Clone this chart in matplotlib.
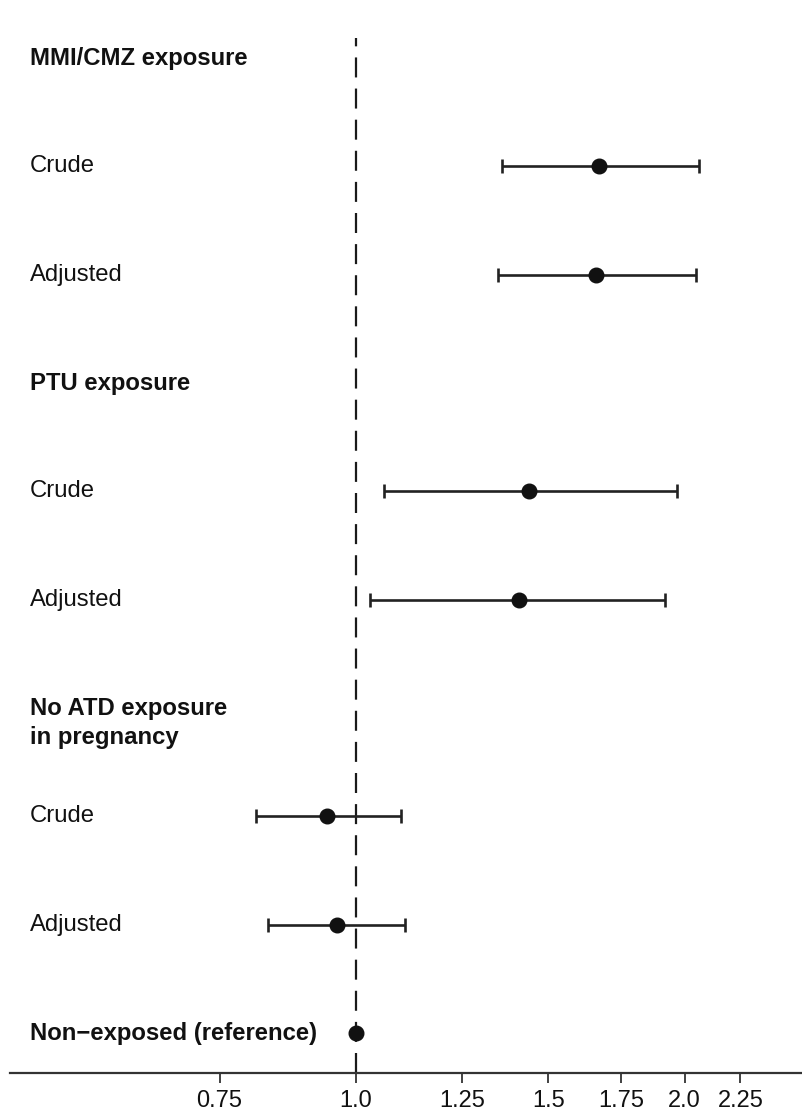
import matplotlib
matplotlib.use("Agg")
import matplotlib.pyplot as plt
import matplotlib.transforms as mtransforms
from matplotlib.ticker import FixedLocator, NullLocator, FixedFormatter

plt.rcParams['font.family'] = ['Liberation Sans', 'DejaVu Sans']

# rows from top to bottom
labels = ['MMI/CMZ exposure', 'Crude', 'Adjusted',
          'PTU exposure', 'Crude', 'Adjusted',
          'No ATD exposure\nin pregnancy', 'Crude', 'Adjusted',
          'Non\u2212exposed (reference)']
is_header = [True, False, False, True, False, False, True, False, False, True]

# estimates (odds ratios) with 95% CI, None for header rows
est = [None, 1.67, 1.66, None, 1.44, 1.41, None, 0.94, 0.96, 1.00]
lower = [None, 1.36, 1.35, None, 1.06, 1.03, None, 0.81, 0.83, None]
upper = [None, 2.06, 2.05, None, 1.97, 1.92, None, 1.10, 1.11, None]

xticks = [0.75, 1.0, 1.25, 1.5, 1.75, 2.0, 2.25]
xticklabels = ['0.75', '1.0', '1.25', '1.5', '1.75', '2.0', '2.25']

W, H = 803, 1114
fig = plt.figure(figsize=(W / 100, H / 100), dpi=100)
ax = fig.add_axes([10 / W, (H - 1073) / H, 793 / W, (1073 - 38) / H])

ax.set_xscale('log')
ax.set_xlim(0.482, 2.568)
ax.set_ylim(9.369, -0.185)

# reference line at OR = 1
ax.axvline(1.0, color='#1a1a1a', lw=1.6, linestyle=(0, (9, 5)), zorder=1)

for i in range(len(labels)):
    if est[i] is None:
        continue
    if lower[i] is not None:
        ax.errorbar([est[i]], [i],
                    xerr=[[est[i] - lower[i]], [upper[i] - est[i]]],
                    fmt='none', ecolor='#222222', elinewidth=1.9,
                    capsize=5, capthick=1.9, zorder=2)
    ax.plot([est[i]], [i], 'o', color='#111111', markersize=10.5, zorder=3)

trans = mtransforms.blended_transform_factory(ax.transAxes, ax.transData)
for i, lab in enumerate(labels):
    ypos = i
    if '\n' in lab:
        ypos = i + 0.14
    ax.text(0.025, ypos, lab, transform=trans, ha='left', va='center',
            fontsize=17.2, fontweight='bold' if is_header[i] else 'normal',
            color='#111111', linespacing=1.35)

ax.xaxis.set_major_locator(FixedLocator(xticks))
ax.xaxis.set_major_formatter(FixedFormatter(xticklabels))
ax.xaxis.set_minor_locator(NullLocator())
ax.tick_params(axis='x', direction='out', length=7, width=1.3,
               labelsize=17, pad=5, color='#333333', labelcolor='#111111')
ax.set_yticks([])
for s in ['top', 'left', 'right']:
    ax.spines[s].set_visible(False)
ax.spines['bottom'].set_linewidth(1.6)
ax.spines['bottom'].set_color('#333333')

fig.savefig('out.png', dpi=100)
